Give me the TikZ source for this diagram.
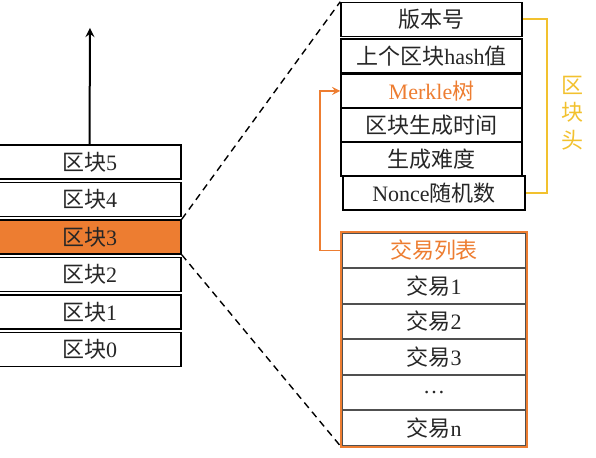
\documentclass[tikz,border=0pt]{standalone}
\usepackage{fontspec}
\setmainfont{Liberation Serif}
\newfontfamily\cjk{Noto Sans CJK SC}
\usepackage{tikz}
\definecolor{blockorange}{HTML}{ED7D31}
\definecolor{headgold}{HTML}{F2C12E}
\definecolor{rowgray}{HTML}{505050}
\definecolor{inkgray}{HTML}{262626}

\begin{document}
\begin{tikzpicture}[
    x=0.5pt, y=-0.5pt,
    >=stealth,
    block/.style={draw, rectangle, minimum height=17pt, minimum width=91.5pt, inner sep=0pt, text=inkgray, font=\fontsize{11}{12}\selectfont, line width=0.75pt},
    field/.style={block, minimum width=90.5pt},
    txrow/.style={block, minimum width=92pt, minimum height=17.75pt, draw=rowgray, line width=1pt},
    zoomline/.style={dash pattern=on 3.5pt off 2.5pt, line width=0.7pt}
]
    \clip (0,0) rectangle (596,458);

    % chain of blocks
    \node[block] (b5) at (89.5,162) {{\cjk 区块}5};
    \node[block] (b4) at (89.5,199.5) {{\cjk 区块}4};
    \node[block, fill=blockorange] (b3) at (89.5,237) {{\cjk 区块}3};
    \node[block] (b2) at (89.5,274.5) {{\cjk 区块}2};
    \node[block] (b1) at (89.5,312) {{\cjk 区块}1};
    \node[block] (b0) at (89.5,349.5) {{\cjk 区块}0};
    \coordinate (top) at (90,28);
    \draw[->, line width=1pt] (b5.north) -- (top);

    % block header
    \node[field] (ver) at (431.5,19.5) {\cjk 版本号};
    \node[field] (prev) at (431.5,56) {{\cjk 上个区块}hash{\cjk 值}};
    \node[field, text=blockorange] (merkle) at (431.5,91) {Merkle{\cjk 树}};
    \node[field] (time) at (431.5,125) {\cjk 区块生成时间};
    \node[field] (diff) at (431.5,159) {\cjk 生成难度};
    \node[field, minimum width=91pt] (nonce) at (434,193) {Nonce{\cjk 随机数}};

    \draw[headgold, line width=1pt] (ver.east) -- ++(24,0) |- (nonce.east);
    \node[headgold, align=center, font=\cjk\fontsize{11}{13.75}\selectfont] (headlbl) at (572,113) {区\\块\\头};

    % transaction list
    \node[txrow, text=blockorange] (tlist) at (434,250.5) {\cjk 交易列表};
    \node[txrow] (tx1) at (434,286) {{\cjk 交易}1};
    \node[txrow] (tx2) at (434,321.5) {{\cjk 交易}2};
    \node[txrow] (tx3) at (434,357) {{\cjk 交易}3};
    \node[txrow] (txdots) at (434,392.5) {\ldots};
    \node[txrow] (txn) at (434,428) {{\cjk 交易}n};
    \draw[blockorange, line width=1.2pt] (tlist.north west) rectangle (txn.south east);

    \draw[->, blockorange, line width=0.8pt] (tlist.west) -- ++(-21,0) |- (merkle.west);

    \draw[zoomline] (b3.north east) -- (ver.north west);
    \draw[zoomline] (b3.south east) -- (txn.south west);

\end{tikzpicture}
\end{document}
